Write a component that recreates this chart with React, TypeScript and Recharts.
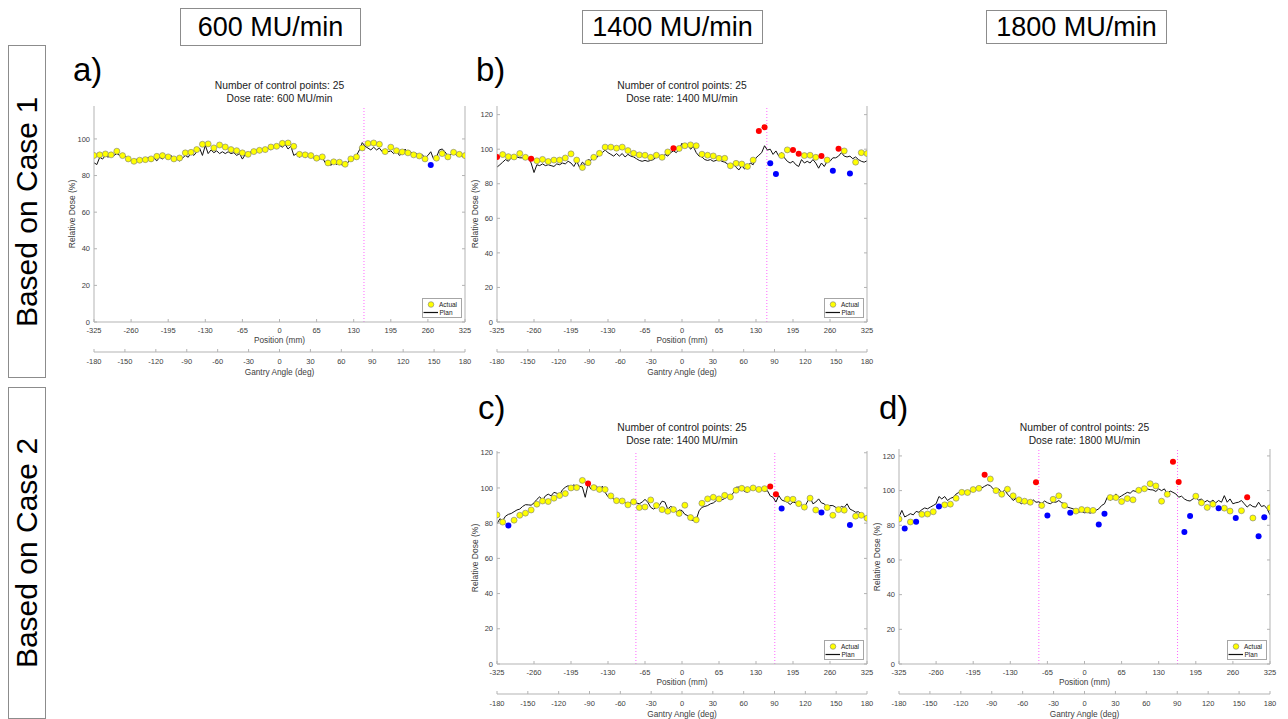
import React from 'react';
import { ComposedChart, Line, Scatter, XAxis, YAxis, ReferenceLine } from 'recharts';

// measured positions (mm) of the detector readings
const actualPositions = [
  -325, -315, -305, -295, -285, -275, -265, -255, -245, -235, -225, -215, -205, -195, -185, -175, -165,
  -155, -145, -135, -125, -115, -105, -95, -85, -75, -65, -55, -45, -35, -25, -15, -5, 5, 15, 25, 35, 45,
  55, 65, 75, 85, 95, 105, 115, 125, 135, 145, 155, 165, 175, 185, 195, 205, 215, 225, 235, 245, 255, 265,
  275, 285, 295, 305, 315, 325,
];

// planned dose profile sample positions (mm)
const planPositions = [
  -325, -320, -315, -310, -305, -300, -295, -290, -285, -280, -275, -270, -265, -260, -255, -250, -245,
  -240, -235, -230, -225, -220, -215, -210, -205, -200, -195, -190, -185, -180, -175, -170, -165, -160,
  -155, -150, -145, -140, -135, -130, -125, -120, -115, -110, -105, -100, -95, -90, -85, -80, -75, -70,
  -65, -60, -55, -50, -45, -40, -35, -30, -25, -20, -15, -10, -5, 0, 5, 10, 15, 20, 25, 30, 35, 40, 45, 50,
  55, 60, 65, 70, 75, 80, 85, 90, 95, 100, 105, 110, 115, 120, 125, 130, 135, 140, 145, 150, 155, 160, 165,
  170, 175, 180, 185, 190, 195, 200, 205, 210, 215, 220, 225, 230, 235, 240, 245, 250, 255, 260, 265, 270,
  275, 280, 285, 290, 295, 300, 305, 310, 315, 320, 325,
];

const positionTicks = [-325, -260, -195, -130, -65, 0, 65, 130, 195, 260, 325];
const gantryTicks = [-180, -150, -120, -90, -60, -30, 0, 30, 60, 90, 120, 150, 180];
const doseTicksA = [0, 20, 40, 60, 80, 100];
const doseTicks = [0, 20, 40, 60, 80, 100, 120];

// a) case 1, 600 MU/min
const aPlan = [
  87, 86, 90, 89, 91, 90, 92, 91, 92, 91,
  90, 90.5, 89, 88, 87, 89, 87.5, 89, 88, 90,
  87.5, 89.5, 88, 90, 89, 91, 89, 91, 88.5, 89,
  88, 89.5, 91, 90, 92.5, 91, 93, 95, 91, 96.5,
  92, 94, 92.5, 93.5, 92, 93, 92, 93, 92, 92.5,
  91, 92, 89, 91.5, 92, 93, 92, 94, 92.5, 94.5,
  93, 95, 94, 96, 95, 96.5, 95.5, 97, 94.5, 96,
  91, 92, 90, 91.5, 90, 91, 90.5, 89.5, 90.5, 89,
  90, 87, 88.5, 85.5, 87.5, 86, 88, 85.5, 87.5, 87,
  90, 89, 91, 94, 98, 96, 95, 94, 95.5, 94,
  95, 93, 94.5, 93, 93.5, 92, 93.5, 91, 92, 94.5,
  92, 93, 91.5, 92, 90.5, 91.5, 89.5, 91, 93, 89,
  90, 94, 94.5, 93, 90.5, 91.5, 93, 91, 92, 90.5,
  90,
];
const aActual = [
  91, 91.3, 91.8, 91.3, 93.3, 90.9, 89.1, 87.8, 88.4, 88.7,
  89.1, 90.5, 90.9, 90.2, 89.1, 89.6, 92.4, 92.7, 94.2, 97.1,
  97.3, 95.1, 96.7, 95.6, 94.2, 93.6, 92.4, 91.6, 93.1, 93.8,
  94.2, 95.6, 96, 97.6, 97.8, 96, 91.6, 91.3, 90.9, 89.5,
  90.2, 86.9, 87.5, 87.3, 86.2, 89.1, 90.2, 95.1, 97.5, 97.8,
  97.1, 93.1, 95.5, 93.6, 92.9, 92.4, 91.3, 90.7, 89.1, 85.8,
  89.5, 92, 90.2, 92.7, 91.6, 90.9,
];
const aRed: number[] = [];
const aBlue = [59];
const aMarkers = [148];

// b) case 1, 1400 MU/min
const bPlan = [
  89.6, 91, 92.5, 94, 93, 95, 94.5, 95.5, 95, 95,
  94.5, 95, 92, 86.5, 91, 90.5, 91.5, 90.5, 91, 90.5,
  90, 91.5, 91, 92, 91.5, 93, 92, 90, 93, 89.5,
  92.5, 91, 94, 93.5, 96, 95, 97, 98, 99.5, 98,
  97, 96, 97.5, 96, 97.5, 95.5, 97, 96, 95.5, 94.5,
  93.5, 93, 93.5, 93, 93.5, 94, 95.5, 96.5, 95, 97,
  96, 98, 99, 98, 100, 103.5, 101, 103, 100, 101.5,
  98, 96, 95.5, 94, 93.5, 94, 93, 93.5, 94, 93,
  92.5, 91.5, 89, 91.5, 89.5, 88, 90.5, 88.5, 90, 92,
  91, 95, 96.5, 98, 102, 99.5, 100, 97, 99, 96,
  98, 95, 93, 92, 93, 91, 90, 94, 92, 93,
  92, 94, 92, 89, 92, 90, 93, 93, 95, 95,
  96, 98, 96, 95.5, 96, 94.5, 95.5, 94, 93, 92.5,
  93.3,
];
const bActual = [
  95.5, 96.9, 95.7, 95.5, 97.5, 95.3, 94.5, 93.3, 94.1, 92.9,
  93.7, 93.7, 94.9, 97.3, 93.7, 89.4, 92.2, 95.3, 97.6, 101.2,
  101.2, 100.6, 101.2, 99.2, 97.6, 96.7, 96.5, 95.3, 96.5, 95.3,
  98.4, 100.6, 100.4, 102, 102.5, 102, 97.1, 96.5, 96.1, 94.7,
  94.7, 90.4, 91.8, 91.4, 90, 93.7, 110.6, 112.7, 91.8, 85.7,
  96.3, 99.6, 99.6, 97.3, 96.3, 96.5, 95.3, 96.1, 93.7, 87.5,
  100.2, 99, 85.9, 92.5, 98, 97.5,
];
const bRed = [0, 6, 31, 46, 47, 52, 53, 57, 60];
const bBlue = [48, 49, 59, 62];
const bMarkers = [149];

// c) case 2, 1400 MU/min
const cPlan = [
  79.6, 82.5, 81.5, 84, 85, 85.5, 86.5, 87.5, 88, 89.5,
  90.5, 90.4, 90.2, 91.5, 93.5, 95, 93, 95.5, 96.5, 95.5,
  97.5, 97, 96.2, 99, 100.4, 101.3, 100, 101.9, 100, 101,
  100.5, 94.7, 102, 99.4, 100.5, 101, 98.5, 101, 97.5, 95,
  95.7, 93.5, 91.9, 93, 93.2, 91.5, 91, 91.7, 92.8, 91.5,
  91, 92, 93.5, 91.9, 89, 88, 89, 90, 92.5, 92,
  88, 89.5, 88.7, 86.2, 87.5, 87.2, 85, 84.3, 82, 81.5,
  82, 87, 89, 89.5, 90, 91, 91.5, 92.8, 94, 93.2,
  94, 95, 95.7, 97, 100.4, 100.5, 99.4, 98, 97.5, 99,
  100.4, 99, 98.5, 99.4, 98, 98.5, 95.5, 94.7, 92, 95.7,
  93.2, 92.5, 92, 90.6, 92, 91.5, 90, 90.5, 89, 92,
  94.7, 91, 92, 93.8, 91.5, 91, 89, 90, 90, 89,
  88, 89.5, 89, 91, 88, 87.2, 86.2, 86.5, 85.3, 84,
  82,
];
const cActual = [
  84.7, 80.6, 78.7, 81.7, 84.5, 85.7, 87.5, 90.8, 92.6, 92.3,
  94.2, 95.7, 96.8, 100, 100.2, 104.3, 102.6, 100.2, 99.2, 99.1,
  95.5, 92.8, 92.6, 90.4, 92.1, 88.9, 89.2, 93.2, 90, 87.7,
  86.8, 87.7, 85.5, 90.2, 83.2, 81.9, 91.3, 93.8, 94.7, 93.8,
  95.8, 94.9, 98.7, 99.8, 99.1, 100, 99.2, 99.6, 100.8, 96.4,
  88.3, 93.6, 93.6, 91.1, 89.1, 94.2, 87.5, 86, 88.9, 84.5,
  87.7, 87.4, 78.9, 84, 84.5, 82.8,
];
const cRed = [16, 48, 49];
const cBlue = [2, 50, 57, 62];
const cMarkers = [-81, 163];

// d) case 2, 1800 MU/min
const dPlan = [
  84.8, 88.6, 84.8, 85.7, 86.7, 86, 88, 87.5, 89, 90,
  89.5, 90.5, 91.4, 92.4, 96.6, 95.2, 96.6, 94.3, 95.5, 96.2,
  98, 99, 98.5, 99.5, 100, 99.5, 100.4, 101.5, 102.3, 101.5,
  102.5, 103.4, 102.9, 101, 100, 101, 98.5, 100.4, 98, 96.2,
  94.3, 95.5, 93.3, 92.4, 93.9, 93, 92.5, 94.7, 93.3, 93.5,
  92.5, 94, 93, 92.4, 93.5, 93.3, 94.3, 93, 92.5, 90.5,
  90, 89.5, 88.5, 87.6, 88, 87.2, 87.5, 87, 87.6, 88.6,
  89.5, 91.4, 92.4, 96.2, 94.5, 95.5, 98.1, 96, 97, 98,
  99, 98.5, 100, 99.5, 101, 100.5, 101.9, 101, 100.5, 100.4,
  99.5, 101, 100, 101, 98.1, 99.8, 99, 98.1, 96.2, 96.8,
  95.2, 94.3, 94, 95.2, 96, 94.5, 95.2, 93.3, 94.3, 93.3,
  94.5, 93, 94.3, 93.3, 97.1, 93.3, 95.2, 92.4, 93, 93.3,
  94.3, 92.4, 90.5, 92, 90.8, 90.5, 93.3, 90.8, 91.4, 89.5,
  86,
];
const dActual = [
  83.6, 78.1, 81.9, 82.1, 86.3, 86.5, 87.8, 90.9, 91.8, 92.2,
  95.6, 99, 98.9, 100.6, 101.3, 109.1, 106.7, 100, 97.9, 100.8,
  97, 94.7, 93.9, 93.3, 104.8, 91.4, 85.7, 95, 97, 91.4,
  87.2, 88.2, 89.1, 88.8, 88.6, 80.4, 86.7, 96, 96, 93.7,
  95.4, 94.7, 100.2, 101.1, 104, 102.7, 93.9, 97.9, 116.6, 105,
  76.2, 85.3, 96.8, 93, 90.3, 92.2, 89.9, 89.9, 88.2, 84.2,
  88.4, 96.2, 84.2, 73.7, 84.6, 90.1,
];
const dRed = [15, 24, 48, 49, 61];
const dBlue = [1, 3, 7, 26, 30, 35, 36, 50, 51, 56, 59, 63, 64];
const dMarkers = [-80, 163];

const boxColor = '#b3b3b3';
const tickColor = '#404040';
const markerColor = '#ff66ff';
const font = '"Liberation Sans", Arial, sans-serif';

const toPoints = (xs: number[], ys: number[]) => ys.map((y, i) => ({ x: xs[i], y }));
const pickPoints = (xs: number[], ys: number[], idx: number[]) => idx.map((i) => ({ x: xs[i], y: ys[i] }));
const restPoints = (xs: number[], ys: number[], skip: number[]) =>
  toPoints(xs, ys).filter((_, i) => !skip.includes(i));

const dot = (fill: string, stroke: string) => (p: any) =>
  <circle cx={p.cx} cy={p.cy} r={3} fill={fill} stroke={stroke} strokeWidth={0.6} />;
const noDot = () => <g />;

const bottomTick = (labelDy: number) => (p: any) => (
  <g>
    <line x1={p.x} x2={p.x} y1={p.y} y2={p.y - 3} stroke={boxColor} />
    <text x={p.x} y={p.y + labelDy} textAnchor="middle" fontSize={7.5} fill={tickColor}>{p.payload.value}</text>
  </g>
);
const topTick = (p: any) => <line x1={p.x} x2={p.x} y1={p.y} y2={p.y + 3} stroke={boxColor} />;
const leftTick = (p: any) => (
  <g>
    <line x1={p.x} x2={p.x + 3} y1={p.y} y2={p.y} stroke={boxColor} />
    <text x={p.x - 4} y={p.y + 2.7} textAnchor="end" fontSize={7.5} fill={tickColor}>{p.payload.value}</text>
  </g>
);
const rightTick = (p: any) => <line x1={p.x} x2={p.x - 3} y1={p.y} y2={p.y} stroke={boxColor} />;

interface Box { L: number; T: number; R: number; B: number }

interface PanelProps {
  box: Box;
  plan: number[];
  actual: number[];
  red: number[];
  blue: number[];
  markers: number[];
  yMax: number;
  yTicks: number[];
  rate: string;
  titleTop: number;
  letter: string;
  letterLeft: number;
  letterTop: number;
}

const Panel: React.FC<PanelProps> = ({ box, plan, actual, red, blue, markers, yMax, yTicks, rate, titleTop, letter, letterLeft, letterTop }) => {
  const { L, T, R, B } = box;
  const w = R - L + 55;
  const h = B - T + 5 + 62;
  const outliers = [...red, ...blue];
  const planPts = toPoints(planPositions, plan);
  return (
    <>
      <div style={{ position: 'absolute', left: letterLeft, top: letterTop, fontSize: 33, lineHeight: '33px', color: '#000' }}>{letter}</div>
      <div style={{ position: 'absolute', left: L, top: titleTop, width: R - L, textAlign: 'center', fontSize: 10.3, lineHeight: '12.7px', color: '#222' }}>
        Number of control points: 25<br />Dose rate: {rate}
      </div>
      <div style={{ position: 'absolute', left: L - 22, top: (T + B) / 2, transform: 'translate(-50%, -50%) rotate(-90deg)', fontSize: 8.5, whiteSpace: 'nowrap', color: tickColor }}>
        Relative Dose (%)
      </div>
      <div style={{ position: 'absolute', left: L - 40, top: T - 5 }}>
        <ComposedChart width={w} height={h} margin={{ top: 5, left: 10, right: 14, bottom: 0 }}>
          <XAxis xAxisId="xb" dataKey="x" type="number" domain={[-180, 180]} allowDataOverflow ticks={gantryTicks} interval={0}
            tickSize={0} tickMargin={0} tickLine={false} height={32} axisLine={{ stroke: boxColor }} tick={bottomTick(11.7)}
            label={{ value: 'Gantry Angle (deg)', position: 'insideBottom', offset: 9, fontSize: 8.3, fill: tickColor }} />
          <XAxis xAxisId="xa" dataKey="x" type="number" domain={[-325, 325]} allowDataOverflow ticks={positionTicks} interval={0}
            tickSize={0} tickMargin={0} tickLine={false} height={30} axisLine={{ stroke: boxColor }} tick={bottomTick(10.6)}
            label={{ value: 'Position (mm)', position: 'insideBottom', offset: 9, fontSize: 8.3, fill: tickColor }} />
          <XAxis xAxisId="xt" dataKey="x" orientation="top" type="number" domain={[-325, 325]} allowDataOverflow ticks={positionTicks} interval={0}
            tickSize={0} tickMargin={0} tickLine={false} height={0} axisLine={{ stroke: boxColor }} tick={topTick} />
          <YAxis yAxisId="d" type="number" domain={[0, yMax]} allowDataOverflow ticks={yTicks} interval={0}
            tickSize={0} tickMargin={0} tickLine={false} width={30} axisLine={{ stroke: boxColor }} tick={leftTick} />
          <YAxis yAxisId="r" orientation="right" type="number" domain={[0, yMax]} allowDataOverflow ticks={yTicks} interval={0}
            tickSize={0} tickMargin={0} tickLine={false} width={1} axisLine={{ stroke: boxColor }} tick={rightTick} />
          {/* invisible series so the secondary axes get their ticks */}
          <Scatter xAxisId="xb" yAxisId="r" data={planPts} dataKey="y" shape={noDot} isAnimationActive={false} />
          <Scatter xAxisId="xt" yAxisId="r" data={planPts} dataKey="y" shape={noDot} isAnimationActive={false} />
          {markers.map((m) => (
            <ReferenceLine key={m} xAxisId="xa" yAxisId="d" x={m} stroke={markerColor} strokeWidth={1}
              strokeDasharray="1 2" style={{ stroke: markerColor }} />
          ))}
          <Scatter xAxisId="xa" yAxisId="d" data={restPoints(actualPositions, actual, outliers)} dataKey="y"
            shape={dot('#ffff00', '#7a7a7a')} isAnimationActive={false} />
          <Line xAxisId="xa" yAxisId="d" data={planPts} dataKey="y" type="linear"
            stroke="#111" strokeWidth={1} dot={false} activeDot={false} isAnimationActive={false} />
          <Scatter xAxisId="xa" yAxisId="d" data={pickPoints(actualPositions, actual, red)} dataKey="y"
            shape={dot('#ff0000', 'none')} isAnimationActive={false} />
          <Scatter xAxisId="xa" yAxisId="d" data={pickPoints(actualPositions, actual, blue)} dataKey="y"
            shape={dot('#0000ff', 'none')} isAnimationActive={false} />
        </ComposedChart>
      </div>
      <div style={{ position: 'absolute', left: R - 43, top: B - 24, width: 40, height: 20, border: '1px solid #a6a6a6', background: '#fff', boxSizing: 'border-box' }}>
        <svg width={38} height={18} style={{ display: 'block' }}>
          <circle cx={8} cy={5.5} r={2.8} fill="#ffff00" stroke="#7a7a7a" strokeWidth={0.6} />
          <text x={16} y={8} fontSize={6.5} fill="#222">Actual</text>
          <line x1={0.5} x2={15} y1={13.5} y2={13.5} stroke="#111" strokeWidth={1.2} />
          <text x={16.5} y={16} fontSize={6.5} fill="#222">Plan</text>
        </svg>
      </div>
    </>
  );
};

const headerStyle: React.CSSProperties = {
  position: 'absolute', border: '1px solid #8c8c8c', boxSizing: 'border-box', display: 'flex',
  alignItems: 'center', justifyContent: 'center', fontSize: 27, color: '#000', background: '#fff',
};

const SideLabel: React.FC<{ top: number; height: number; text: string }> = ({ top, height, text }) => (
  <div style={{ position: 'absolute', left: 8, top, width: 38, height, border: '1px solid #8c8c8c', boxSizing: 'border-box' }}>
    <div style={{ position: 'absolute', left: '50%', top: '50%', transform: 'translate(-50%, -50%) rotate(-90deg)', fontSize: 30, whiteSpace: 'nowrap', color: '#000' }}>
      {text}
    </div>
  </div>
);

export default function App() {
  return (
    <div style={{ position: 'absolute', left: 0, top: 0, width: 1288, height: 719, background: '#fff', fontFamily: font, overflow: 'hidden' }}>
      <div style={{ ...headerStyle, left: 180, top: 8, width: 181, height: 38 }}>600 MU/min</div>
      <div style={{ ...headerStyle, left: 582, top: 10, width: 181, height: 34 }}>1400 MU/min</div>
      <div style={{ ...headerStyle, left: 986, top: 10, width: 181, height: 34 }}>1800 MU/min</div>
      <SideLabel top={45} height={333} text="Based on Case 1" />
      <SideLabel top={387} height={332} text="Based on Case 2" />

      <Panel box={{ L: 94, T: 106, R: 465, B: 322 }} plan={aPlan} actual={aActual} red={aRed} blue={aBlue} markers={aMarkers}
        yMax={118} yTicks={doseTicksA} rate="600 MU/min" titleTop={80.4} letter="a)" letterLeft={73} letterTop={53} />
      <Panel box={{ L: 497, T: 106, R: 867, B: 322 }} plan={bPlan} actual={bActual} red={bRed} blue={bBlue} markers={bMarkers}
        yMax={125} yTicks={doseTicks} rate="1400 MU/min" titleTop={80.4} letter="b)" letterLeft={476} letterTop={53} />
      <Panel box={{ L: 497, T: 451, R: 867, B: 664 }} plan={cPlan} actual={cActual} red={cRed} blue={cBlue} markers={cMarkers}
        yMax={121} yTicks={doseTicks} rate="1400 MU/min" titleTop={422} letter="c)" letterLeft={478} letterTop={391} />
      <Panel box={{ L: 899, T: 449, R: 1270, B: 664 }} plan={dPlan} actual={dActual} red={dRed} blue={dBlue} markers={dMarkers}
        yMax={124} yTicks={doseTicks} rate="1800 MU/min" titleTop={422} letter="d)" letterLeft={879} letterTop={391} />
    </div>
  );
}
